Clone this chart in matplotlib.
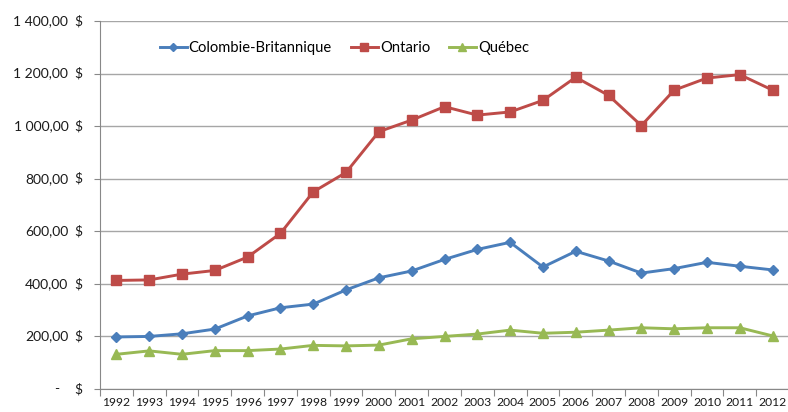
import matplotlib

matplotlib.use("Agg")
import matplotlib.pyplot as plt
import matplotlib.transforms as mtransforms

plt.rcParams["font.family"] = ["Lato", "DejaVu Sans"]

YEARS = [str(y) for y in range(1992, 2013)]
COLOMBIE_BRITANNIQUE = [198, 200, 210, 228, 278, 309, 323, 377, 423, 449, 493,
                        531, 558, 464, 524, 487, 441, 458, 482, 467, 453]
ONTARIO = [413, 415, 437, 451, 502, 592, 750, 824, 979, 1023, 1074,
           1042, 1054, 1098, 1186, 1117, 1002, 1137, 1183, 1196, 1137]
QUEBEC = [132, 145, 132, 146, 146, 152, 166, 164, 167, 191, 200,
          209, 224, 212, 216, 224, 233, 229, 233, 233, 202]
Y_TICKS = [0, 200, 400, 600, 800, 1000, 1200, 1400]

SERIES = [
    ("Colombie-Britannique", COLOMBIE_BRITANNIQUE, "#4A7EBB", "D", 5.5),
    ("Ontario", ONTARIO, "#BE4B48", "s", 7),
    ("Québec", QUEBEC, "#98B954", "^", 7),
]


def money(v):
    if v == 0:
        return "-"
    s = f"{v:,.2f}"
    return s.replace(",", " ").replace(".", ",")


fig = plt.figure(figsize=(7.88, 4.12), dpi=100)
ax = fig.add_axes([100 / 788, 1 - 389 / 412, 689 / 788, 368 / 412])

xs = list(range(len(YEARS)))
for label, vals, color, marker, ms in SERIES:
    ax.plot(xs, vals, color=color, lw=2.1, marker=marker, ms=ms,
            markeredgecolor=color, label=label)

ax.set_xlim(-0.5, len(YEARS) - 0.5)
ax.set_ylim(0, 1400)

# gridlines + axis styling
ax.set_yticks(Y_TICKS)
ax.yaxis.grid(True, color="#a6a6a6", lw=1)
ax.set_axisbelow(True)
for side in ("top", "right"):
    ax.spines[side].set_visible(False)
for side in ("left", "bottom"):
    ax.spines[side].set_color("#888888")
ax.tick_params(axis="y", length=4, color="#888888", labelleft=False)

# category ticks at boundaries, labels centred
ax.set_xticks([x - 0.5 for x in xs] + [len(YEARS) - 0.5])
ax.set_xticklabels([])
ax.tick_params(axis="x", length=5, color="#888888")
ax.set_xticks(xs, minor=True)
ax.set_xticklabels(YEARS, minor=True, fontsize=8.7, color="#1a1a1a")
ax.tick_params(axis="x", which="minor", length=0, pad=6)

# accounting style labels: number right-aligned, "$" in its own column
trans = mtransforms.blended_transform_factory(ax.transAxes, ax.transData)
for v in Y_TICKS:
    num_x = -0.059 if v == 0 else -0.046
    ax.text(num_x, v, money(v), transform=trans, ha="right", va="center",
            fontsize=10, color="#1a1a1a")
    ax.text(-0.026, v, "$", transform=trans, ha="right", va="center",
            fontsize=10, color="#1a1a1a")

fig.legend(loc="center left", bbox_to_anchor=(160 / 788, 1 - 48 / 412),
           ncol=3, frameon=False, fontsize=10.6, handlelength=1.8,
           handletextpad=0.15, columnspacing=1.3, borderaxespad=0, borderpad=0,
           markerscale=0.8)

fig.savefig("out.png", dpi=100)
